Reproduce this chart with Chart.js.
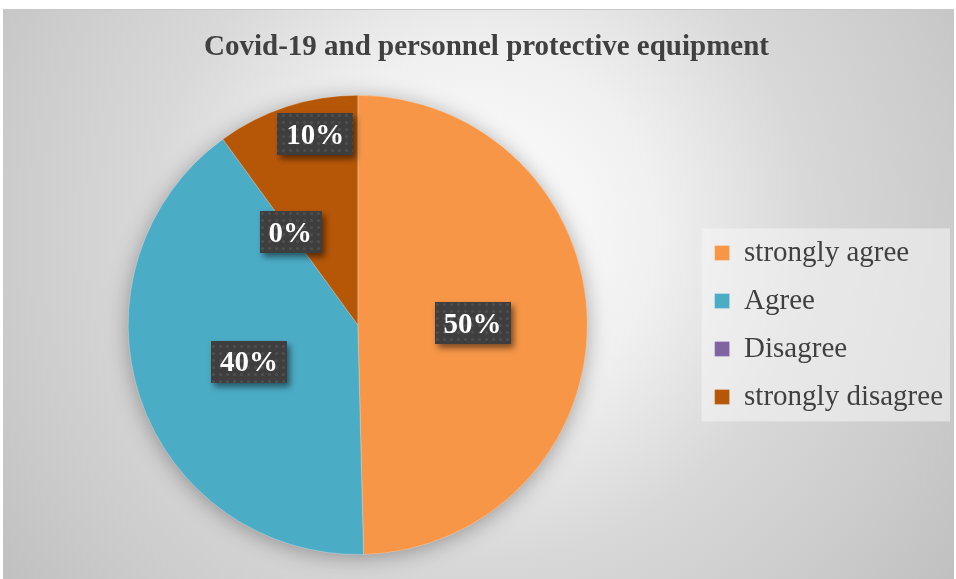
<!DOCTYPE html>
<html>
<head>
<meta charset="utf-8">
<script src="https://cdn.jsdelivr.net/npm/chart.js@4.4.0/dist/chart.umd.min.js"></script>
<style>
  html, body { margin: 0; padding: 0; background: #ffffff; }
  #wrap { width: 956px; height: 579px; }
</style>
</head>
<body>
<div id="wrap"><canvas id="pie" width="956" height="579"></canvas></div>
<script>
// chart data
const chartTitle = 'Covid-19 and personnel protective equipment';
const categories = ['strongly agree', 'Agree', 'Disagree', 'strongly disagree'];
const shares = [49.6, 40.4, 0, 10];
const percentLabels = ['50%', '40%', '0%', '10%'];
const sliceColors = ['#F79646', '#4BACC6', '#8064A2', '#B65708'];
// where each label sits inside its slice (fraction of angle span, fraction of radius)
const labelAngleFrac = [0.5, 0.5, 0.5, 0.65];
const labelRadiusFrac = [0.5, 0.5, 0.5, 0.85];

const serif = '"Liberation Serif", "Times New Roman", serif';

// dotted dark fill for the label boxes
function makeLabelPattern(ctx) {
  const c = document.createElement('canvas');
  c.width = 7; c.height = 7;
  const p = c.getContext('2d');
  p.fillStyle = '#3e3e3e';
  p.fillRect(0, 0, 7, 7);
  p.fillStyle = 'rgba(255,255,255,0.09)';
  p.beginPath();
  p.arc(3.5, 3.5, 1.6, 0, Math.PI * 2);
  p.fill();
  return ctx.createPattern(c, 'repeat');
}

const backdrop = {
  id: 'backdrop',
  beforeDraw(chart) {
    const ctx = chart.ctx;
    const fx = 3, fy = 9, fw = chart.width - 5, fh = chart.height - 9;
    ctx.save();
    const g = ctx.createRadialGradient(478, 230, 0, 478, 230, 600);
    g.addColorStop(0, '#ffffff');
    g.addColorStop(0.3, '#f0f0f0');
    g.addColorStop(0.55, '#d8d8d8');
    g.addColorStop(0.8, '#cbcbcb');
    g.addColorStop(1, '#bfbfbf');
    ctx.fillStyle = g;
    ctx.fillRect(fx, fy, fw, fh);
    ctx.strokeStyle = '#c8c8c8';
    ctx.lineWidth = 1;
    ctx.beginPath();
    ctx.moveTo(fx, fy + 0.5);
    ctx.lineTo(fx + fw, fy + 0.5);
    ctx.stroke();

    // legend panel
    const boxes = chart.legend.legendHitBoxes;
    if (boxes && boxes.length) {
      let l = Infinity, t = Infinity, r = -Infinity, b = -Infinity;
      boxes.forEach(h => {
        l = Math.min(l, h.left); t = Math.min(t, h.top);
        r = Math.max(r, h.left + h.width); b = Math.max(b, h.top + h.height);
      });
      ctx.fillStyle = 'rgba(245,245,245,0.55)';
      ctx.fillRect(l - 13, t - 10, (r - l) + 20, (b - t) + 20);
    }
    ctx.restore();
  },
  beforeDatasetsDraw(chart) {
    // soft shadow under the whole pie
    const arc = chart.getDatasetMeta(0).data[0];
    if (!arc) return;
    const ctx = chart.ctx;
    ctx.save();
    ctx.shadowColor = 'rgba(0,0,0,0.35)';
    ctx.shadowBlur = 22;
    ctx.shadowOffsetY = 3;
    ctx.fillStyle = '#aaaaaa';
    ctx.beginPath();
    ctx.arc(arc.x, arc.y, arc.outerRadius - 1, 0, Math.PI * 2);
    ctx.fill();
    ctx.restore();
  }
};

const sliceLabels = {
  id: 'sliceLabels',
  afterDatasetsDraw(chart) {
    const ctx = chart.ctx;
    const pattern = makeLabelPattern(ctx);
    const meta = chart.getDatasetMeta(0);
    ctx.save();
    ctx.font = 'bold 29px ' + serif;
    ctx.textAlign = 'center';
    ctx.textBaseline = 'middle';
    meta.data.forEach((arc, i) => {
      const a = arc.startAngle + (arc.endAngle - arc.startAngle) * labelAngleFrac[i];
      const d = arc.outerRadius * labelRadiusFrac[i];
      const cx = arc.x + Math.cos(a) * d;
      const cy = arc.y + Math.sin(a) * d;
      const txt = percentLabels[i];
      const w = ctx.measureText(txt).width + 18;
      const h = 42;
      ctx.save();
      ctx.shadowColor = 'rgba(0,0,0,0.5)';
      ctx.shadowBlur = 6;
      ctx.shadowOffsetX = 3;
      ctx.shadowOffsetY = 4;
      ctx.fillStyle = pattern;
      ctx.fillRect(Math.round(cx - w / 2), Math.round(cy - h / 2), Math.round(w), h);
      ctx.restore();
      ctx.fillStyle = '#ffffff';
      ctx.fillText(txt, cx, cy + 2);
    });
    ctx.restore();
  }
};

new Chart(document.getElementById('pie'), {
  type: 'pie',
  data: {
    labels: categories,
    datasets: [{
      data: shares,
      backgroundColor: sliceColors,
      borderColor: 'rgba(255,255,255,0.25)',
      borderWidth: 1
    }]
  },
  options: {
    responsive: false,
    animation: false,
    devicePixelRatio: 1,
    layout: { padding: { top: 9, left: 20, right: 3, bottom: 24 } },
    plugins: {
      title: {
        display: true,
        text: chartTitle,
        color: '#404040',
        font: { family: serif, size: 29, weight: 'bold', lineHeight: 1.2 },
        padding: { top: 21, bottom: 30 }
      },
      legend: {
        position: 'right',
        align: 'center',
        fullSize: false,
        labels: {
          color: '#404040',
          font: { family: serif, size: 29 },
          boxWidth: 15,
          boxHeight: 15,
          padding: 19
        }
      },
      tooltip: { enabled: false }
    }
  },
  plugins: [backdrop, sliceLabels]
});
</script>
</body>
</html>
